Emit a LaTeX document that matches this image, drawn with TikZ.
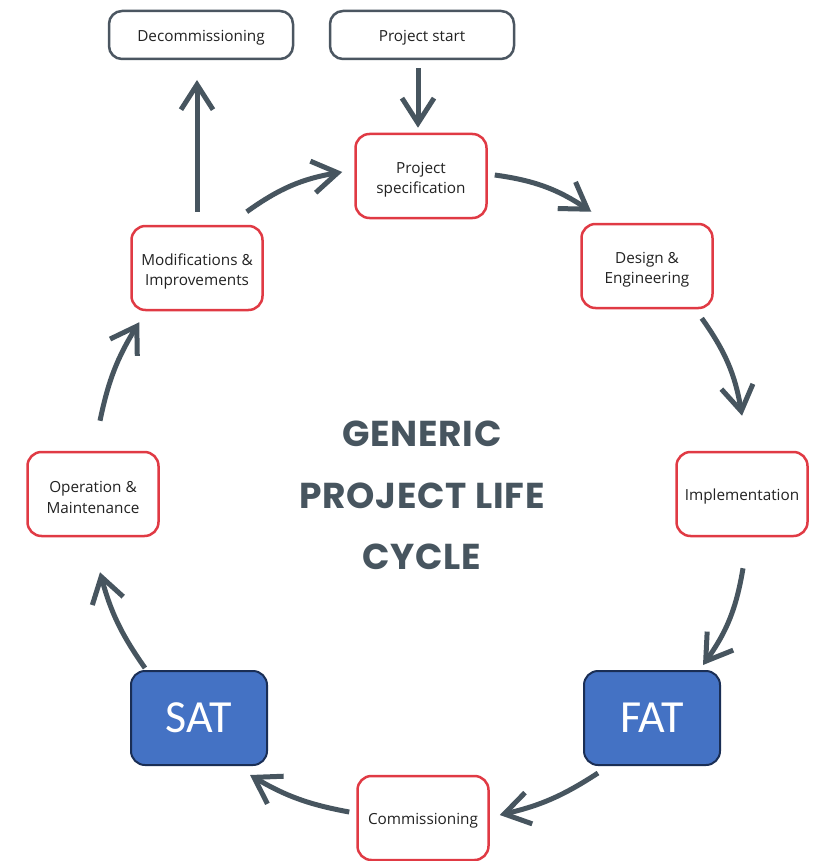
\documentclass[tikz,border=0pt]{standalone}
\usepackage{fontspec}
\setmainfont{Open Sans}
\newfontfamily\titlefont[LetterSpace=2]{Poppins}
\newfontfamily\satfont{Carlito}
\usetikzlibrary{arrows.meta}
\definecolor{arrowc}{HTML}{47555F}
\definecolor{redc}{HTML}{E03A44}
\definecolor{grayc}{HTML}{4B5661}
\definecolor{bluef}{HTML}{4472C4}
\definecolor{blued}{HTML}{1A2E55}
\definecolor{textc}{HTML}{222222}
\begin{document}
\begin{tikzpicture}[x=1pt,y=-1pt,
  lbl/.style={font=\fontsize{15.3}{20.5}\selectfont, text=textc, align=center},
  oneline/.style={text height=17pt},
  twoline/.style={text height=39pt},
  box/.style={lbl, draw=redc, line width=2.5pt, rounded corners=14pt, fill=white,
    minimum width=131pt, minimum height=84pt, inner sep=0pt},
  topbox/.style={lbl, oneline, draw=grayc, line width=2.5pt, rounded corners=13pt, fill=white,
    minimum width=184pt, minimum height=48pt, inner sep=0pt},
  testbox/.style={draw=blued, fill=bluef, line width=2pt, rounded corners=14pt,
    minimum width=136pt, minimum height=94pt, inner sep=0pt, text=white,
    font=\satfont\fontsize{46}{50}\selectfont},
  arr/.style={draw=arrowc, line width=5pt, -{Straight Barb[length=25pt,width=32pt]}},
  title/.style={font=\titlefont\bfseries\fontsize{36}{42}\selectfont, text=arrowc},
]
\clip (0,0) rectangle (815,861);
\useasboundingbox (0,0) rectangle (815,861);

\node[topbox] (decom) at (201,35) {Decommissioning};
\node[topbox] (start) at (422,35) {Project start};
\node[box, twoline] (spec) at (421,176) {Project\\specification};
\node[box, twoline] (design) at (647,266) {Design \&\\Engineering};
\node[box, oneline] (impl) at (742,494) {Implementation};
\node[testbox] (fat) at (652,718) {FAT};
\node[box, oneline] (comm) at (423,818) {Commissioning};
\node[testbox] (sat) at (199,718) {SAT};
\node[box, twoline] (op) at (93,494) {Operation \&\\Maintenance};
\node[box, twoline] (mod) at (197,268) {Modifications \&\\Improvements};

\node[title] (t1) at (422,434) {GENERIC};
\node[title] (t2) at (422,496) {PROJECT LIFE};
\node[title] (t3) at (422,557) {CYCLE};

\draw[arr] ([shift={(-4,8)}]start.south) -- ([shift={(-3,-5)}]spec.north);
\draw[arr] ([shift={(0,-13)}]mod.north) -- (mod.north |- 0,80);
\draw[arr] ([shift={(-17,-13)}]mod.north east) to[bend left=13] ([shift={(-12,-4)}]spec.west);
\draw[arr] ([shift={(7,-1)}]spec.east) to[bend left=13] ([shift={(11,-11)}]design.north west);
\draw[arr] ([shift={(-12,9)}]design.south east) to[bend left=13] ([shift={(0,-35)}]impl.north);
\draw[arr] ([shift={(1,31)}]impl.south) to[bend left=13] ([shift={(-18,-5)}]fat.north east);
\draw[arr] ([shift={(-54,7)}]fat.south) to[bend left=10] ([shift={(10,-3)}]comm.east);
\draw[arr] ([shift={(-7,-6)}]comm.west) to[bend left=10] ([shift={(-18,9)}]sat.south east);
\draw[arr] ([shift={(15,-2)}]sat.north west) to[bend left=10] ([shift={(7,35)}]op.south);
\draw[arr] ([shift={(7,-30)}]op.north) to[bend left=10] ([shift={(9,11)}]mod.south west);
\end{tikzpicture}
\end{document}
